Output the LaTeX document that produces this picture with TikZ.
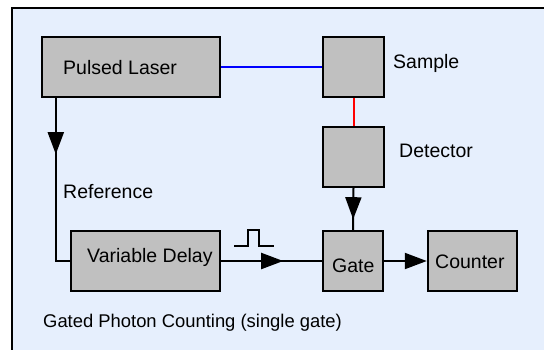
\documentclass[tikz,border=0pt]{standalone}
\usepackage{fontspec}
\setmainfont{Liberation Sans}
\usetikzlibrary{arrows.meta,decorations.markings}
\definecolor{framebg}{HTML}{E6EFFD}
\definecolor{boxgray}{HTML}{C0C0C0}
\definecolor{beamblue}{HTML}{0000FF}
\definecolor{beamred}{HTML}{FF0000}
\tikzset{
  blockbox/.style={draw=black, line width=2.4pt, fill=boxgray, inner sep=0pt},
  lbl/.style={inner sep=0pt, anchor=base west, font=\fontsize{19.5}{22}\selectfont},
  capt/.style={inner sep=0pt, anchor=base west, font=\fontsize{18.4}{22}\selectfont},
  conn/.style={line width=2pt},
  tipstyle/.tip={Triangle[length=22pt,width=16pt]},
  midarrow/.style={postaction={decorate}, decoration={markings, mark=at position #1 with {\arrow{tipstyle}}}}
}
\begin{document}
\begin{tikzpicture}[x=1pt,y=-1pt]
\useasboundingbox (0,0) rectangle (544,349);
% frame
\draw[line width=2.5pt, fill=framebg] (12,8) rectangle (560,365);
% boxes
\node[blockbox, minimum width=178pt, minimum height=60pt] (laser) at (131,67) {};
\node[blockbox, minimum width=61pt, minimum height=60pt] (sample) at (353.5,67) {};
\node[blockbox, minimum width=61pt, minimum height=60pt] (det) at (353.5,157) {};
\node[blockbox, minimum width=60pt, minimum height=60pt] (gate) at (353,261) {};
\node[blockbox, minimum width=89pt, minimum height=60pt] (counter) at (472.5,261) {};
\node[blockbox, minimum width=149pt, minimum height=60pt] (vd) at (145.5,261) {};
% texts
\node[lbl] (tlaser) at (63,74) {Pulsed Laser};
\node[lbl] (tsample) at (393,68) {Sample};
\node[lbl] (tdet) at (399,157) {Detector};
\node[lbl] (tref) at (63,198) {Reference};
\node[lbl] (tvd) at (87,262) {Variable Delay};
\node[lbl] (tgate) at (332,272) {Gate};
\node[lbl] (tcounter) at (435,268) {Counter};
\node[capt] (tcap) at (43,327) {Gated Photon Counting (single gate)};
% connectors
\draw[conn, draw=beamblue] (laser.east) -- (sample.west);
\draw[conn, draw=beamred] (sample.south) -- (det.north);
\draw[conn, midarrow=31pt] (det.south) -- (gate.north);
\draw[conn, midarrow=56pt] ([xshift=15pt]laser.south west) |- (vd.west);
\draw[conn, midarrow=62pt] (vd.east) -- (gate.west);
\draw[conn, -{tipstyle}] (gate.east) -- (counter.west);
% pulse symbol
\coordinate (p0) at (234,246);
\draw[line width=1.6pt] (p0) -- ++(14,0) -- ++(0,-16) -- ++(11,0) -- ++(0,16) -- ++(15,0);
\end{tikzpicture}
\end{document}
